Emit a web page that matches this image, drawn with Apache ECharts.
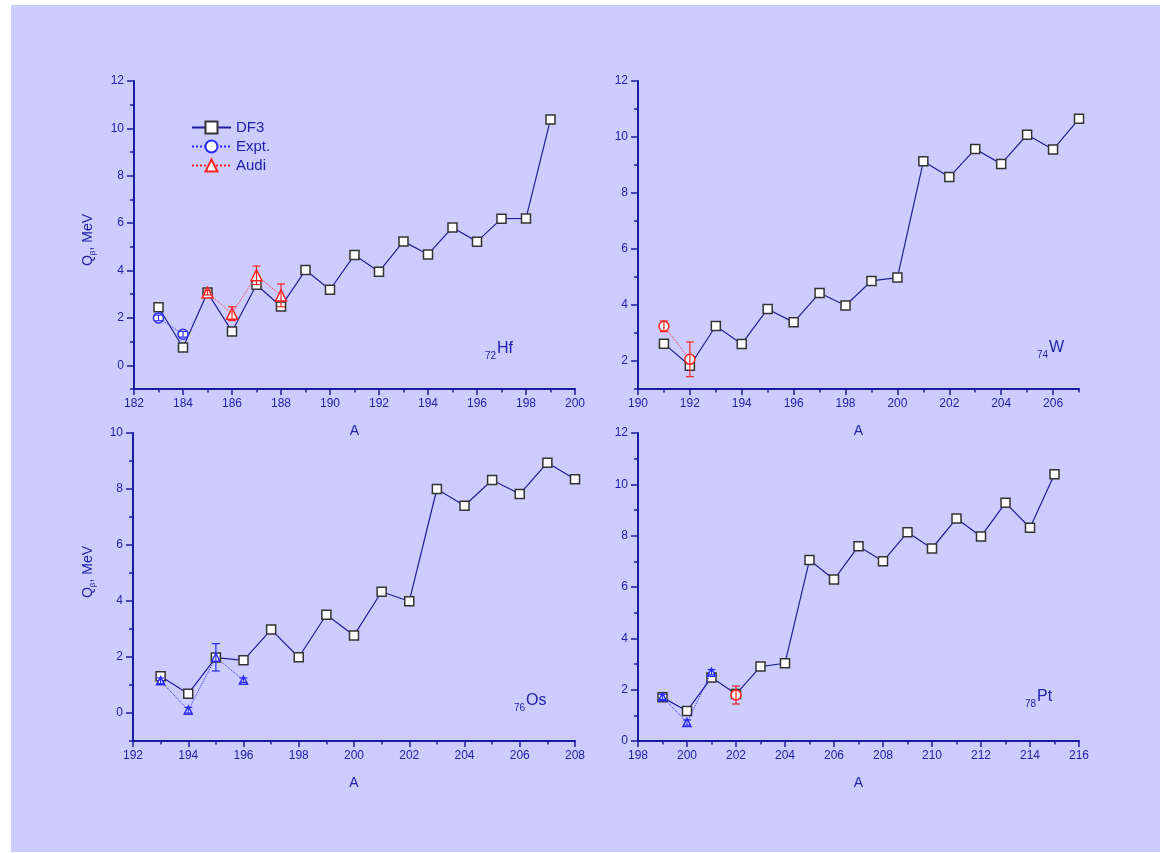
<!DOCTYPE html>
<html>
<head>
<meta charset="utf-8">
<script src="https://cdn.jsdelivr.net/npm/echarts@6/dist/echarts.min.js"></script>
<style>
  html, body { margin: 0; padding: 0; background: #ffffff; }
  #frame { position: absolute; left: 11px; top: 5px; width: 1149px; height: 847px; background: #ccccff; }
  #main { position: absolute; left: 0; top: 0; width: 1163px; height: 853px; }
</style>
</head>
<body>
<div id="frame"></div>
<div id="main"></div>
<script>
// ---- 72Hf ----
const hfA = [183, 184, 185, 186, 187, 188, 189, 190, 191, 192, 193, 194, 195, 196, 197, 198, 199];
const hfDF3 = [2.45, 0.75, 3.07, 1.43, 3.40, 2.48, 4.02, 3.19, 4.66, 3.95, 5.23, 4.68, 5.82, 5.22, 6.19, 6.20, 10.38];
const hfExptA = [183, 184];
const hfExpt = [2.00, 1.31];
const hfExptErr = [0.12, 0.12];
const hfAudiA = [185, 186, 187, 188];
const hfAudi = [3.07, 2.18, 3.80, 2.95];
const hfAudiErr = [0.10, 0.29, 0.39, 0.48];

// ---- 74W ----
const wA = [191, 192, 193, 194, 195, 196, 197, 198, 199, 200, 201, 202, 203, 204, 205, 206, 207];
const wDF3 = [2.62, 1.83, 3.25, 2.61, 3.86, 3.38, 4.43, 3.98, 4.86, 4.98, 9.13, 8.57, 9.57, 9.04, 10.08, 9.55, 10.65];
const wExptA = [191, 192];
const wExpt = [3.24, 2.06];
const wExptErr = [0.19, 0.62];

// ---- 76Os ----
const osA = [193, 194, 195, 196, 197, 198, 199, 200, 201, 202, 203, 204, 205, 206, 207, 208];
const osDF3 = [1.31, 0.69, 1.98, 1.88, 2.98, 1.99, 3.51, 2.77, 4.33, 3.99, 8.00, 7.40, 8.32, 7.82, 8.94, 8.35];
const osExptA = [193, 194, 195, 196];
const osExpt = [1.15, 0.10, 1.99, 1.17];
const osExptErr = [0.10, 0.10, 0.49, 0.08];

// ---- 78Pt ----
const ptA = [199, 200, 201, 202, 203, 204, 205, 206, 207, 208, 209, 210, 211, 212, 213, 214, 215];
const ptDF3 = [1.70, 1.17, 2.47, 1.83, 2.90, 3.03, 7.05, 6.29, 7.59, 7.00, 8.13, 7.50, 8.67, 7.97, 9.28, 8.31, 10.39];
const ptExptA = [199, 200, 201];
const ptExpt = [1.72, 0.72, 2.68];
const ptExptErr = [0.10, 0.10, 0.10];
const ptRedA = [202];
const ptRed = [1.79];
const ptRedErr = [0.35];

// ---- axis ranges and tick labels ----
const hfXRange = [182, 200], hfYRange = [-1, 12];
const wXRange = [190, 207], wYRange = [1, 12];
const osXRange = [192, 208], osYRange = [-1, 10];
const ptXRange = [198, 216], ptYRange = [0, 12];
const hfXTicks = [182, 184, 186, 188, 190, 192, 194, 196, 198, 200];
const wXTicks = [190, 192, 194, 196, 198, 200, 202, 204, 206];
const osXTicks = [192, 194, 196, 198, 200, 202, 204, 206, 208];
const ptXTicks = [198, 200, 202, 204, 206, 208, 210, 212, 214, 216];
const hfYTicks = [0, 2, 4, 6, 8, 10, 12];
const wYTicks = [2, 4, 6, 8, 10, 12];
const osYTicks = [0, 2, 4, 6, 8, 10];
const ptYTicks = [0, 2, 4, 6, 8, 10, 12];

const AXIS = '#1b1b9e';
const TEXT = '#2222aa';
const LINE = '#1f1f98';
const BLUE = '#2b2bff';
const RED = '#ff2222';
const FONT = '"Liberation Sans", Arial, sans-serif';

const zip = (xs, ys) => xs.map((x, i) => [x, ys[i]]);
const errRows = (xs, ys, es) => xs.map((x, i) => [x, ys[i] - es[i], ys[i] + es[i]]);

// minor ticks: every whole value that carries no label
function minorsOf(ticks, range) {
  const out = [];
  for (let v = range[0]; v <= range[1]; v++) {
    if (ticks.indexOf(v) < 0) out.push(v);
  }
  return out;
}

const grids = [
  { left: 134, top: 81, width: 441, height: 308 },
  { left: 638, top: 81, width: 441, height: 308 },
  { left: 133, top: 433, width: 442, height: 308 },
  { left: 638, top: 433, width: 441, height: 308 }
];

const panels = [
  { xr: hfXRange, yr: hfYRange, xt: hfXTicks, yt: hfYTicks },
  { xr: wXRange, yr: wYRange, xt: wXTicks, yt: wYTicks },
  { xr: osXRange, yr: osYRange, xt: osXTicks, yt: osYTicks },
  { xr: ptXRange, yr: ptYRange, xt: ptXTicks, yt: ptYTicks }
];

const xAxes = [], yAxes = [];
panels.forEach((p, g) => {
  xAxes.push({
    type: 'value', gridIndex: g, min: p.xr[0], max: p.xr[1], position: 'bottom',
    name: 'A', nameLocation: 'middle', nameGap: 35,
    nameTextStyle: { color: TEXT, fontSize: 14, fontFamily: FONT },
    axisLine: { show: true, onZero: false, lineStyle: { color: AXIS, width: 2 } },
    axisTick: { show: true, customValues: p.xt, length: 6, lineStyle: { color: AXIS, width: 1.5 } },
    axisLabel: { customValues: p.xt, color: TEXT, fontSize: 12, fontFamily: FONT, margin: 9 },
    splitLine: { show: false }
  });
  xAxes.push({
    type: 'value', gridIndex: g, min: p.xr[0], max: p.xr[1], position: 'bottom', offset: 0,
    axisLine: { show: false, onZero: false },
    axisTick: { show: true, customValues: minorsOf(p.xt, p.xr), length: 3.5, lineStyle: { color: AXIS, width: 1.5 } },
    axisLabel: { show: false },
    splitLine: { show: false }
  });
  yAxes.push({
    type: 'value', gridIndex: g, min: p.yr[0], max: p.yr[1], position: 'left',
    axisLine: { show: true, onZero: false, lineStyle: { color: AXIS, width: 2 } },
    axisTick: { show: true, customValues: p.yt, length: 7, lineStyle: { color: AXIS, width: 1.5 } },
    axisLabel: { customValues: p.yt, color: TEXT, fontSize: 12, fontFamily: FONT, margin: 10 },
    splitLine: { show: false }
  });
  yAxes.push({
    type: 'value', gridIndex: g, min: p.yr[0], max: p.yr[1], position: 'left', offset: 0,
    axisLine: { show: false, onZero: false },
    axisTick: { show: true, customValues: minorsOf(p.yt, p.yr), length: 4, lineStyle: { color: AXIS, width: 1.5 } },
    axisLabel: { show: false },
    splitLine: { show: false }
  });
});

function df3Series(name, g, xs, ys) {
  return {
    name: name, type: 'line', xAxisIndex: 2 * g, yAxisIndex: 2 * g, z: 2,
    data: zip(xs, ys),
    symbol: 'rect', symbolSize: 9,
    lineStyle: { color: LINE, width: 1.2 },
    itemStyle: { color: '#ffffff', borderColor: '#333333', borderWidth: 1.5 }
  };
}

function markSeries(name, g, xs, ys, symbol, size, color, z) {
  return {
    name: name, type: 'line', xAxisIndex: 2 * g, yAxisIndex: 2 * g, z: z || 3,
    data: zip(xs, ys),
    symbol: symbol, symbolSize: size,
    lineStyle: { color: color, width: 1, type: 'dotted' },
    itemStyle: { color: '#ffffff', borderColor: color, borderWidth: 1.5 }
  };
}

function errSeries(g, xs, ys, es, color) {
  return {
    type: 'custom', xAxisIndex: 2 * g, yAxisIndex: 2 * g, z: 5, silent: true,
    data: errRows(xs, ys, es),
    renderItem: function (params, api) {
      const x = api.value(0);
      const top = api.coord([x, api.value(2)]);
      const bot = api.coord([x, api.value(1)]);
      const w = 4;
      const st = { stroke: color, lineWidth: 1.2 };
      return {
        type: 'group',
        children: [
          { type: 'line', shape: { x1: top[0], y1: top[1], x2: bot[0], y2: bot[1] }, style: st },
          { type: 'line', shape: { x1: top[0] - w, y1: top[1], x2: top[0] + w, y2: top[1] }, style: st },
          { type: 'line', shape: { x1: bot[0] - w, y1: bot[1], x2: bot[0] + w, y2: bot[1] }, style: st }
        ]
      };
    }
  };
}

const series = [
  df3Series('DF3', 0, hfA, hfDF3),
  markSeries('Expt.', 0, hfExptA, hfExpt, 'circle', 10, BLUE),
  markSeries('Audi', 0, hfAudiA, hfAudi, 'triangle', 11, RED),
  errSeries(0, hfExptA, hfExpt, hfExptErr, BLUE),
  errSeries(0, hfAudiA, hfAudi, hfAudiErr, RED),

  df3Series('DF3 W', 1, wA, wDF3),
  markSeries('Expt. W', 1, wExptA, wExpt, 'circle', 10, RED),
  errSeries(1, wExptA, wExpt, wExptErr, RED),

  df3Series('DF3 Os', 2, osA, osDF3),
  markSeries('Expt. Os', 2, osExptA, osExpt, 'triangle', 8, BLUE),
  errSeries(2, osExptA, osExpt, osExptErr, BLUE),

  df3Series('DF3 Pt', 3, ptA, ptDF3),
  markSeries('Expt. Pt', 3, ptExptA, ptExpt, 'triangle', 8, BLUE),
  errSeries(3, ptExptA, ptExpt, ptExptErr, BLUE),
  markSeries('Red Pt', 3, ptRedA, ptRed, 'circle', 10, RED),
  errSeries(3, ptRedA, ptRed, ptRedErr, RED)
];

function yName(x, y) {
  return {
    type: 'text', x: x, y: y, rotation: Math.PI / 2,
    style: {
      text: '{q|Q}{s|β}{q|, MeV}',
      align: 'center', verticalAlign: 'middle',
      fill: TEXT, fontFamily: FONT,
      rich: {
        q: { fontSize: 14, lineHeight: 18, fill: TEXT, fontFamily: FONT, verticalAlign: 'middle' },
        s: { fontSize: 8, lineHeight: 8, fill: TEXT, fontFamily: FONT, verticalAlign: 'bottom' }
      }
    }
  };
}

function nuclide(x, y, z, sym) {
  return [
    { type: 'text', x: x - 1, y: y + 7.5, style: { text: z, fill: TEXT, fontSize: 10, fontFamily: FONT, align: 'right', verticalAlign: 'middle' } },
    { type: 'text', x: x, y: y, style: { text: sym, fill: TEXT, fontSize: 16, fontFamily: FONT, align: 'left', verticalAlign: 'middle' } }
  ];
}

const chart = echarts.init(document.getElementById('main'), null, { renderer: 'canvas' });
chart.setOption({
  backgroundColor: 'transparent',
  animation: false,
  grid: grids,
  xAxis: xAxes,
  yAxis: yAxes,
  legend: {
    data: ['DF3', 'Expt.', 'Audi'],
    orient: 'vertical', left: 191, top: 120, padding: 0,
    itemWidth: 39, itemHeight: 15, itemGap: 4,
    textStyle: { color: TEXT, fontSize: 15, fontFamily: FONT },
    selectedMode: false
  },
  graphic: [
    yName(88, 240),
    yName(88, 572)
  ].concat(
    nuclide(497, 349, '72', 'Hf'),
    nuclide(1049, 348, '74', 'W'),
    nuclide(526, 701, '76', 'Os'),
    nuclide(1037, 697, '78', 'Pt')
  ),
  series: series
});
</script>
</body>
</html>
